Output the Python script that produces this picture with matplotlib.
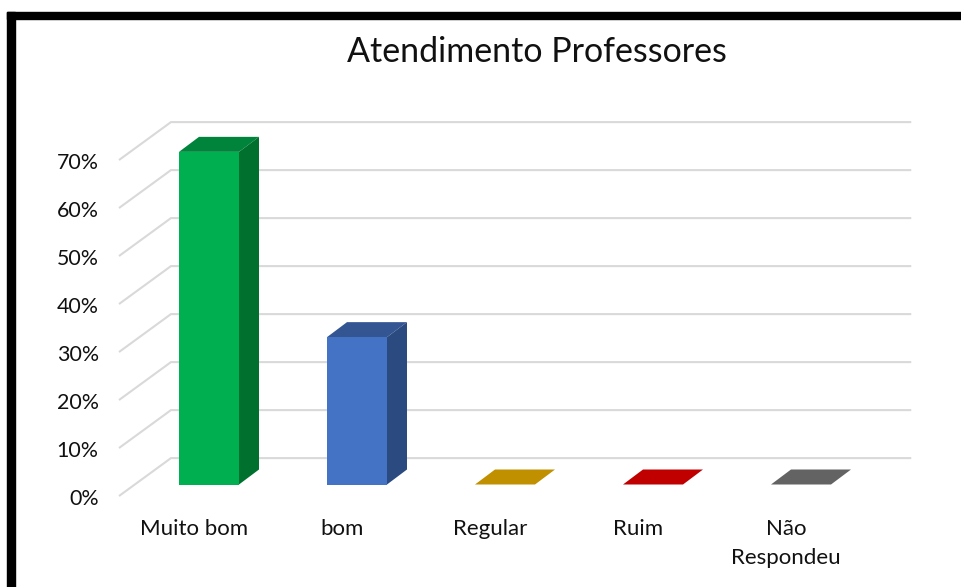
import matplotlib
matplotlib.use('Agg')
import matplotlib.pyplot as plt
from matplotlib.patches import Polygon, Rectangle

plt.rcParams['font.family'] = ['Lato', 'DejaVu Sans']

categories = ['Muito bom', 'bom', 'Regular', 'Ruim', 'Não\nRespondeu']
values = [69.3, 30.7, 0, 0, 0]
ticks = [0, 10, 20, 30, 40, 50, 60, 70]
tick_labels = ['0%', '10%', '20%', '30%', '40%', '50%', '60%', '70%']

front_colors = ['#00B050', '#4472C4', '#C09000', '#C00000', '#636363']
top_colors = ['#00843C', '#335693', '#C09000', '#C00000', '#636363']
side_colors = ['#00702F', '#2A4A80', '#906C00', '#900000', '#4A4A4A']

W, H = 962, 587
PX_X = 148.0  # pixels per category
PX_Y = 4.8    # pixels per percent
X0, Y0 = 209.0, 484.5  # where category 0 / 0% sit on the bar plane

BAR_W = 60 / PX_X
DEPTH_X = 20 / PX_X
DEPTH_Y = 15 / PX_Y

fig = plt.figure(figsize=(W / 100, H / 100), dpi=100, facecolor='white')
ax = fig.add_axes([0, 0, 1, 1])
ax.set_xlim(-X0 / PX_X, (W - X0) / PX_X)
ax.set_ylim((Y0 - H) / PX_Y, Y0 / PX_Y)
ax.axis('off')

# floor/wall gridlines of the fake 3d box
grid_color = '#D9D9D9'
front_x, back_x, right_x = -0.608, -0.257, 4.745
front_dy, back_dy = -2.4, 5.5
for t in ticks:
    ax.plot([front_x, back_x, right_x], [t + front_dy, t + back_dy, t + back_dy],
            color=grid_color, lw=1.5, solid_joinstyle='miter', solid_capstyle='butt', zorder=1)

for t, lab in zip(ticks, tick_labels):
    ax.text(-0.745, t + front_dy - 0.6, lab, ha='right', va='center', fontsize=15.4, color='#111111')

# bars: front face, top and right side
for i, v in enumerate(values):
    l, r = i - BAR_W / 2, i + BAR_W / 2
    ax.add_patch(Polygon([(l, v), (r, v), (r + DEPTH_X, v + DEPTH_Y), (l + DEPTH_X, v + DEPTH_Y)],
                         facecolor=top_colors[i], edgecolor='none', zorder=3))
    if v > 0:
        ax.add_patch(Polygon([(r, 0), (r + DEPTH_X, DEPTH_Y), (r + DEPTH_X, v + DEPTH_Y), (r, v)],
                             facecolor=side_colors[i], edgecolor='none', zorder=3))
        ax.add_patch(Rectangle((l, 0), BAR_W, v, facecolor=front_colors[i], edgecolor='none', zorder=4))

# category labels, one text per line so the baselines stay put
for i, c in enumerate(categories):
    for n, line in enumerate(c.split('\n')):
        ax.text(i - 0.101, -10.5 - n * 6.04, line, ha='center', va='baseline', fontsize=16, color='#111111')

ax.text(2.213, 90.1, 'Atendimento Professores', ha='center', va='center', fontsize=24.5, color='#111111')

# black frame, open at the right and bottom
fig.add_artist(Rectangle((7 / W, 0), 8 / W, 1 - 12 / H, transform=fig.transFigure, color='black'))
fig.add_artist(Rectangle((7 / W, 1 - 19 / H), 1 - 7 / W, 7 / H, transform=fig.transFigure, color='black'))

fig.savefig('out.png', dpi=100)
